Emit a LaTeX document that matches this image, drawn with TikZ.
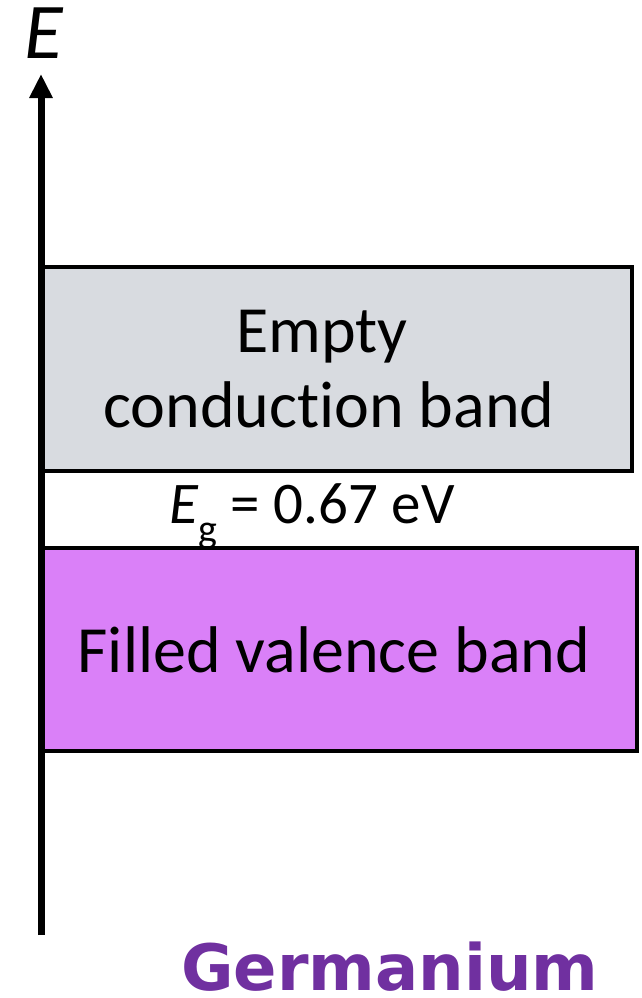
\documentclass[tikz,border=0pt]{standalone}
\usepackage{fontspec}
\setmainfont{Carlito}[Ligatures=NoCommon]
\newfontfamily\labelfont{DejaVu Sans}
\usetikzlibrary{arrows.meta}
\definecolor{condgray}{RGB}{216,219,224}
\definecolor{valviolet}{RGB}{218,128,248}
\definecolor{gepurple}{RGB}{112,48,160}
\tikzset{
  band/.style={draw=black, line width=4pt, rectangle, inner sep=0pt},
  bandtext/.style={font=\fontsize{66}{79}\selectfont, anchor=base, inner sep=0pt},
}
\begin{document}
\begin{tikzpicture}[x=1pt, y=-1pt]
  \useasboundingbox (0,0) rectangle (641,998);
  % energy bands
  \node[band, fill=condgray, minimum width=591pt, minimum height=204pt] (cb) at (336.5,369) {};
  \node[band, fill=valviolet, minimum width=596pt, minimum height=203pt] (vb) at (339,649.5) {};
  % energy axis
  \coordinate (axbot) at (41,935);
  \coordinate (axtop) at (41,74);
  \draw[line width=7pt, -{Triangle[width=22pt,length=24pt]}] (axbot) -- (axtop);
  \node[font=\fontsize{79}{90}\selectfont\itshape, anchor=base, inner sep=0pt] (elab) at (44,59) {E};
  % band labels
  \node[bandtext] (t1) at (322,352) {Empty};
  \node[bandtext] (t2) at (329,427) {conduct\kern0pt ion band};
  \node[bandtext] (t3) at (334,672) {Filled valence band};
  \node[font=\fontsize{59}{70}\selectfont, anchor=base, inner sep=0pt] (gap) at (312,523)
    {\textit{E}\raisebox{-0.33em}{\fontsize{40}{48}\selectfont g} = 0.67 eV};
  % material name
  \node[font=\labelfont\bfseries\fontsize{64}{77}\selectfont, text=gepurple, anchor=base, inner sep=0pt, text depth=0pt] (mat) at (390,990) {Germanium};
\end{tikzpicture}
\end{document}
